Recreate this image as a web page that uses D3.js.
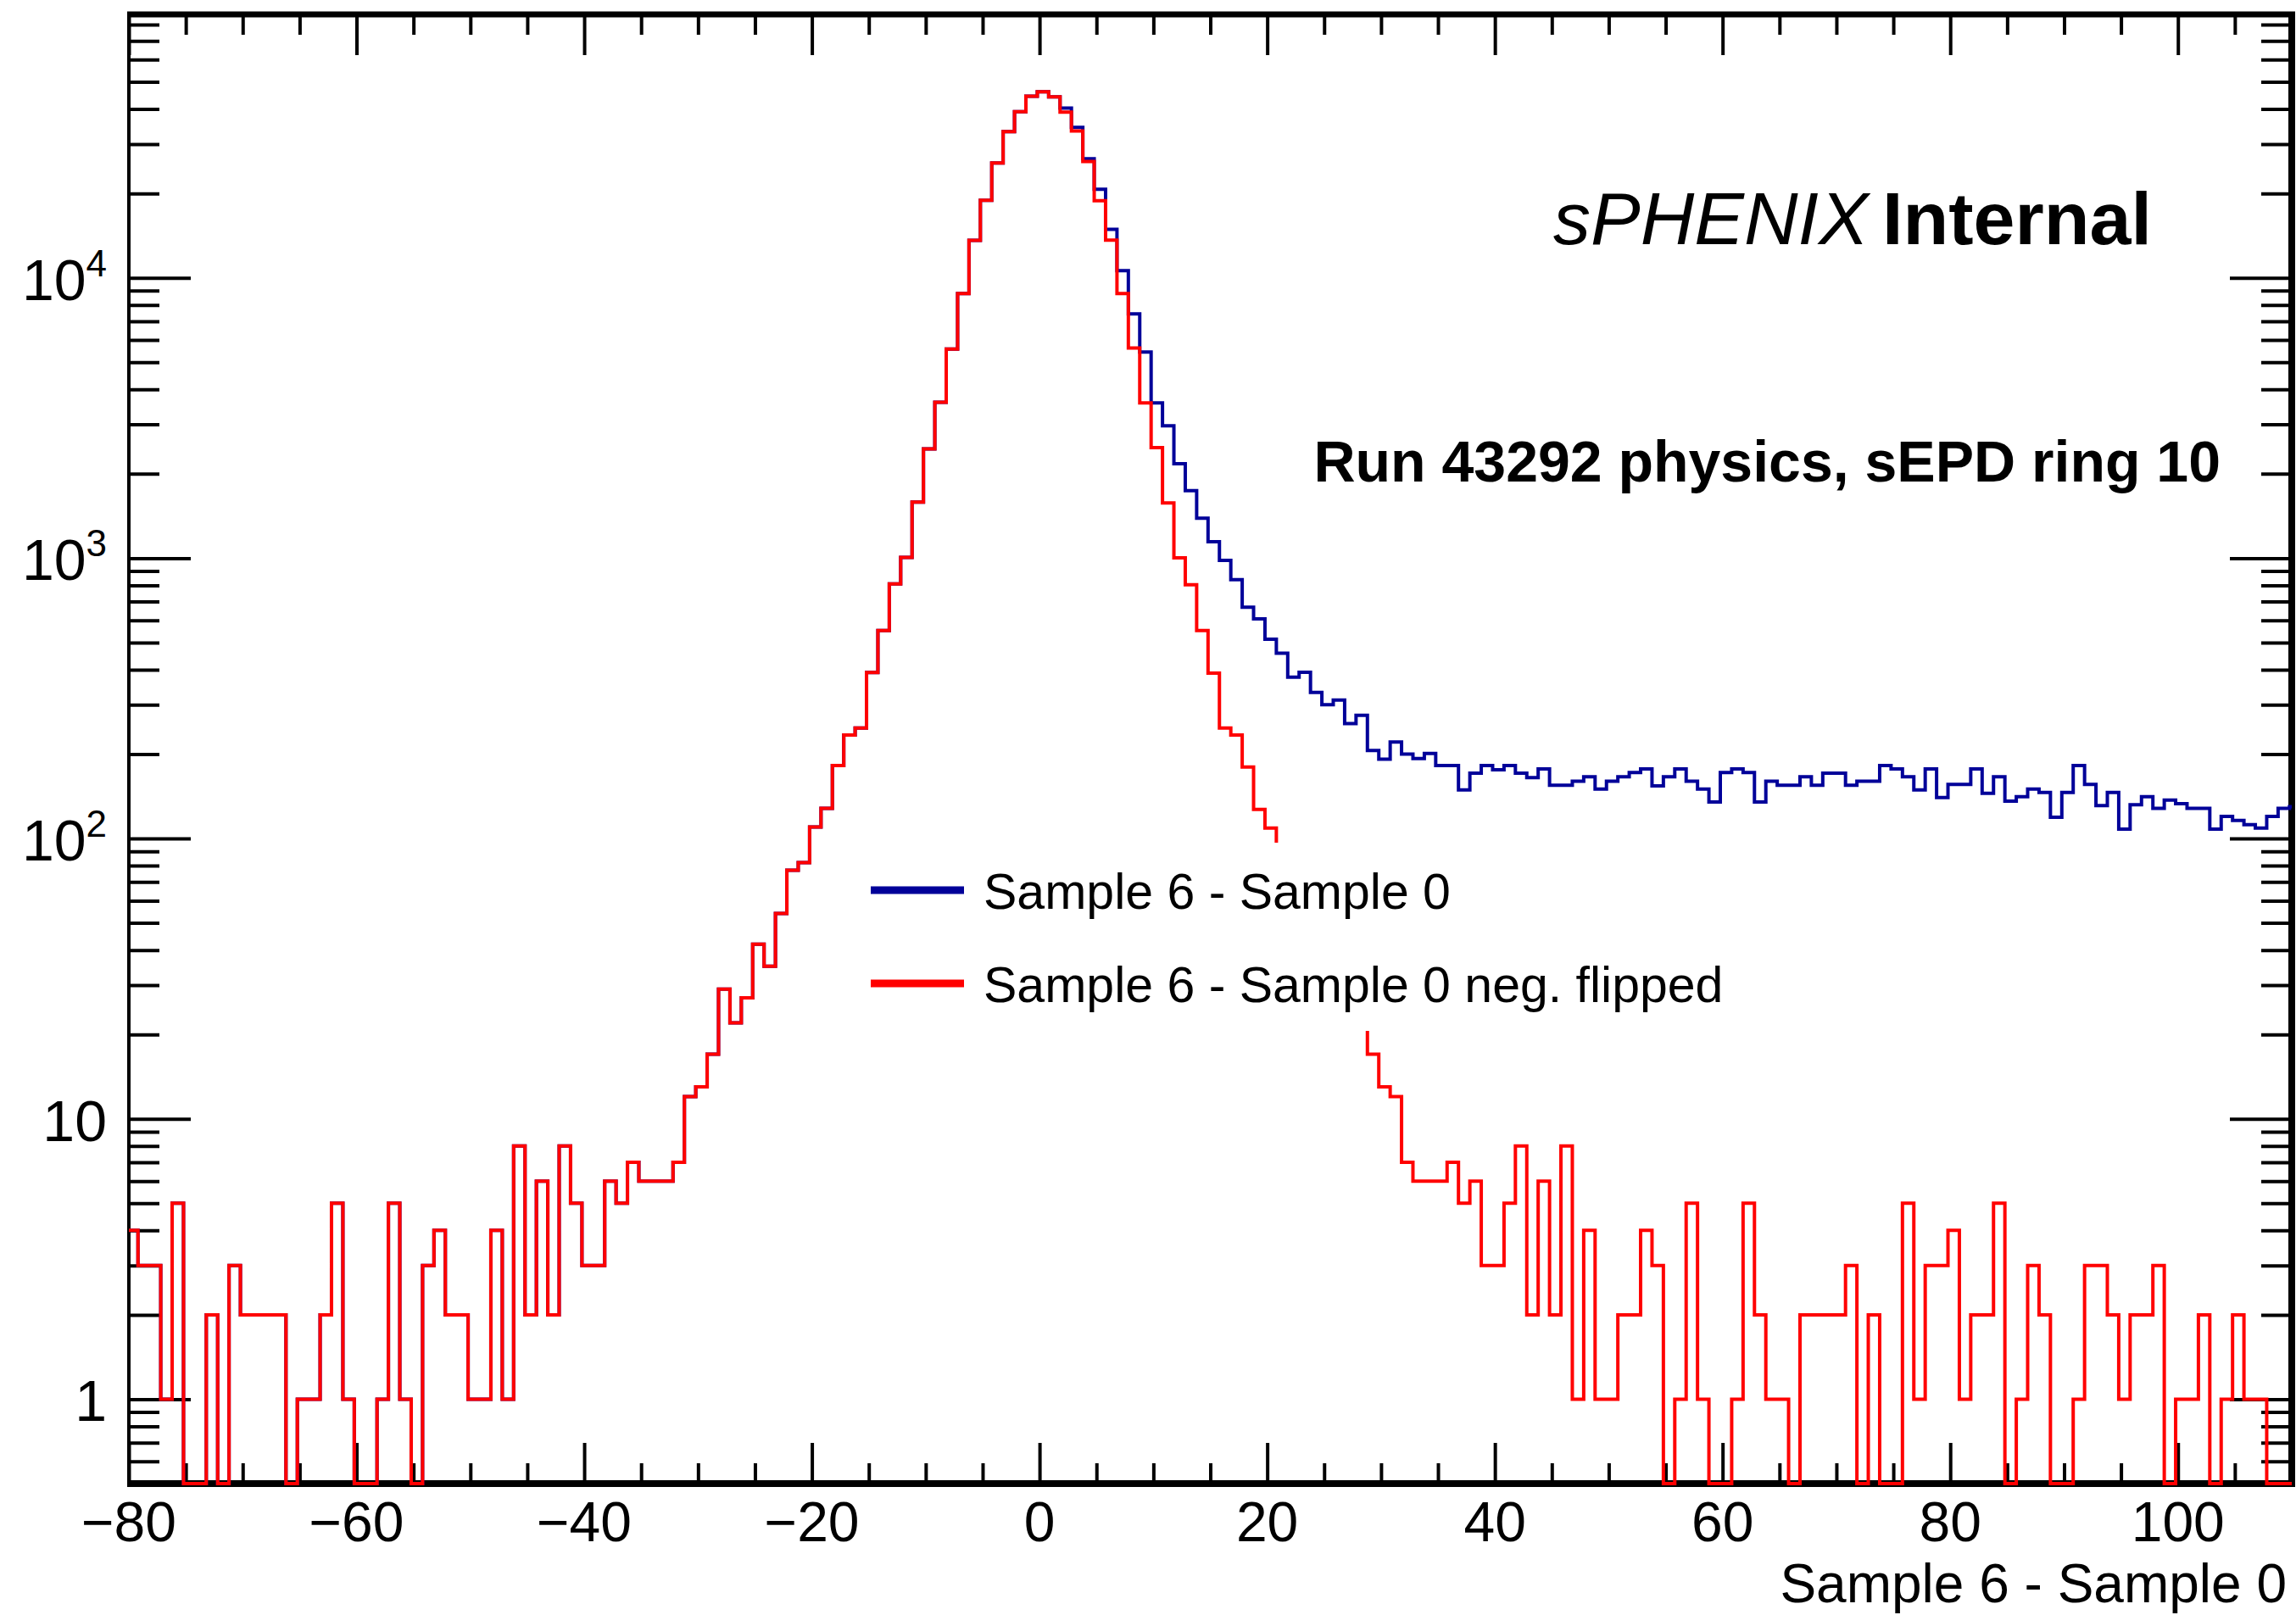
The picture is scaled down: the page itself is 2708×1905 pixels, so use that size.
<!DOCTYPE html>
<html>
<head>
<meta charset="utf-8">
<script src="https://cdn.jsdelivr.net/npm/d3@7"></script>
<style>
  html, body { margin: 0; padding: 0; background: #ffffff; }
  svg { display: block; font-family: "Liberation Sans", Arial, Helvetica, sans-serif; }
</style>
</head>
<body>
<svg id="chart" width="2708" height="1905"></svg>
<script>
// ---- binning: unit-width bins, first lower edge at -80.2 ----
const binLowEdge = -80.2;
const binWidth = 1;

// Sample 6 - Sample 0, negative side mirrored onto the positive side
const redCounts = [
  4, 3, 3, 1, 5, 0, 0, 2, 0, 3,
  2, 2, 2, 2, 0, 1, 1, 2, 5, 1,
  0, 0, 1, 5, 1, 0, 3, 4, 2, 2,
  1, 1, 4, 1, 8, 2, 6, 2, 8, 5,
  3, 3, 6, 5, 7, 6, 6, 6, 7, 12,
  13, 17, 29, 22, 27, 42, 35, 54, 77, 82,
  110, 128, 182, 234, 248, 391, 552, 809, 1007, 1586,
  2455, 3598, 5572, 8790, 13600, 18900, 25700, 33200, 39100, 44400,
  46100,
  44200, 39000, 33400, 26000, 18850, 13620, 8790, 5620, 3580, 2480,
  1574, 1003, 804, 552, 389, 248, 234, 180, 127, 109,
  82, 77, 54, 35, 42, 27, 22, 29,
  17, 13, 12, 7, 6, 6, 6, 7, 5, 6,
  3, 3, 5, 8, 2, 6, 2, 8, 1, 4,
  1, 1, 2, 2, 4, 3, 0, 1, 5, 1,
  0, 0, 1, 5, 2, 1, 1, 0, 2, 2,
  2, 2, 3, 0, 2, 0, 0, 5, 1, 3,
  3, 4, 1, 2, 2, 5, 0, 1, 3, 2,
  0, 0, 1, 3, 3, 2, 1, 2, 2, 3,
  0, 1, 1, 2, 0, 1, 2, 1, 1, 0, 0, 0
];

// Sample 6 - Sample 0
const blueCounts = [
  4, 3, 3, 1, 5, 0, 0, 2, 0, 3,
  2, 2, 2, 2, 0, 1, 1, 2, 5, 1,
  0, 0, 1, 5, 1, 0, 3, 4, 2, 2,
  1, 1, 4, 1, 8, 2, 6, 2, 8, 5,
  3, 3, 6, 5, 7, 6, 6, 6, 7, 12,
  13, 17, 29, 22, 27, 42, 35, 54, 77, 82,
  110, 128, 182, 234, 248, 391, 552, 809, 1007, 1586,
  2455, 3598, 5572, 8790, 13600, 18900, 25700, 33200, 39100, 44400,
  46100,
  44200, 40300, 34400, 26600, 20700, 14900, 10600, 7430, 5440, 3580,
  2966, 2171, 1740, 1388, 1145, 982, 838, 668, 607, 514,
  458, 376, 392, 332, 300, 312, 257, 275, 206, 192,
  221, 200, 193, 201, 182, 182, 149, 171, 182, 176,
  182, 171, 165, 177, 155, 155, 160, 166, 150, 160,
  166, 172, 177, 154, 166, 177, 160, 150, 135, 172,
  177, 172, 135, 160, 155, 155, 166, 155, 171, 171,
  155, 160, 160, 182, 177, 166, 149, 177, 140, 156,
  156, 177, 145, 166, 136, 141, 150, 146, 119, 146,
  182, 156, 131, 146, 108, 132, 141, 128, 137, 133,
  128, 128, 108, 120, 116, 112, 109, 120, 128, 130
];

const xTickLabels = [-80, -60, -40, -20, 0, 20, 40, 60, 80, 100];
const yTickLabels = [1, 10, 100, 1000, 10000];
const seriesNames = ["Sample 6 - Sample 0", "Sample 6 - Sample 0 neg. flipped"];
const seriesColors = ["#000099", "#ff0000"];
const xTitle = "Sample 6 - Sample 0";
const runLabel = "Run 43292 physics, sEPD ring 10";

// ---- frame geometry ----
const W = 2708, H = 1905;
const L = 152, R = 2703, T = 17, B = 1750;
const xMin = -80, xMax = 110, yMin = 0.5, yMax = 87000;

const svg = d3.select("#chart");
svg.append("rect").attr("width", W).attr("height", H).attr("fill", "#ffffff");

const x = d3.scaleLinear().domain([xMin, xMax]).range([L, R]);
const y = d3.scaleLog().domain([yMin, yMax]).range([B, T]);

// ---- ticks (inward on all four sides) ----
const xMinor = d3.range(xMin, xMax + 0.001, 5).filter(v => v % 20 !== 0);
const yMinor = [];
[0.1, 1, 10, 100, 1000, 10000].forEach(d => {
  for (let k = 2; k <= 9; k++) {
    const v = d * k;
    if (v > yMin && v < yMax) yMinor.push(v);
  }
});

const tickStyle = g => {
  g.select(".domain").remove();
  g.selectAll(".tick text").remove();
  g.selectAll(".tick line").attr("stroke", "#000").attr("stroke-width", 4);
};

svg.append("g").attr("transform", `translate(0,${B})`)
  .call(d3.axisBottom(x).tickValues(xTickLabels).tickSize(-48)).call(tickStyle);
svg.append("g").attr("transform", `translate(0,${B})`)
  .call(d3.axisBottom(x).tickValues(xMinor).tickSize(-24)).call(tickStyle);
svg.append("g").attr("transform", `translate(0,${T})`)
  .call(d3.axisTop(x).tickValues(xTickLabels).tickSize(-48)).call(tickStyle);
svg.append("g").attr("transform", `translate(0,${T})`)
  .call(d3.axisTop(x).tickValues(xMinor).tickSize(-24)).call(tickStyle);

svg.append("g").attr("transform", `translate(${L},0)`)
  .call(d3.axisLeft(y).tickValues(yTickLabels).tickSize(-73)).call(tickStyle);
svg.append("g").attr("transform", `translate(${L},0)`)
  .call(d3.axisLeft(y).tickValues(yMinor).tickSize(-36)).call(tickStyle);
svg.append("g").attr("transform", `translate(${R},0)`)
  .call(d3.axisRight(y).tickValues(yTickLabels).tickSize(-73)).call(tickStyle);
svg.append("g").attr("transform", `translate(${R},0)`)
  .call(d3.axisRight(y).tickValues(yMinor).tickSize(-36)).call(tickStyle);

// ---- frame ----
const frame = svg.append("g").attr("stroke", "#000").attr("fill", "none");
frame.append("line").attr("x1", L).attr("x2", L).attr("y1", T - 3).attr("y2", B + 4).attr("stroke-width", 4);
frame.append("line").attr("x1", L - 2).attr("x2", R + 4).attr("y1", B).attr("y2", B).attr("stroke-width", 8);
frame.append("line").attr("x1", R).attr("x2", R).attr("y1", T - 3).attr("y2", B + 4).attr("stroke-width", 8);
frame.append("line").attr("x1", L - 2).attr("x2", R + 4).attr("y1", T).attr("y2", T).attr("stroke-width", 7);

// ---- histograms ----
svg.append("defs").append("clipPath").attr("id", "plotClip")
  .append("rect").attr("x", L).attr("y", T).attr("width", R - L).attr("height", B - T + 4);

function histPoints(counts) {
  const pts = counts.map((c, i) => [binLowEdge + i * binWidth, c]);
  pts.push([binLowEdge + counts.length * binWidth, counts[counts.length - 1]]);
  return pts;
}
const stepLine = d3.line()
  .x(d => x(d[0]))
  .y(d => y(Math.max(d[1], yMin)))
  .curve(d3.curveStepAfter);

const hists = svg.append("g").attr("clip-path", "url(#plotClip)");
[blueCounts, redCounts].forEach((counts, k) => {
  hists.append("path")
    .attr("d", stepLine(histPoints(counts)))
    .attr("fill", "none")
    .attr("stroke", seriesColors[k])
    .attr("stroke-width", 4)
    .attr("stroke-linejoin", "miter");
});

// ---- tick labels ----
const labels = svg.append("g").attr("fill", "#000");
xTickLabels.forEach(v => {
  labels.append("text")
    .attr("x", x(v)).attr("y", 1818)
    .attr("text-anchor", "middle")
    .attr("font-size", 66)
    .text(v < 0 ? "\u2212" + Math.abs(v) : String(v));
});
yTickLabels.forEach(v => {
  const t = labels.append("text")
    .attr("x", 126).attr("y", y(v) + 26)
    .attr("text-anchor", "end")
    .attr("font-size", 68);
  if (v < 100) {
    t.text(String(v));
  } else {
    t.append("tspan").text("10");
    t.append("tspan").attr("dy", -28).attr("font-size", 44).text(String(Math.round(Math.log10(v))));
  }
});

// axis title
labels.append("text")
  .attr("x", 2697).attr("y", 1890)
  .attr("text-anchor", "end")
  .attr("font-size", 64)
  .text(xTitle);

// ---- legend ----
const legend = svg.append("g");
legend.append("rect")
  .attr("x", 990).attr("y", 994).attr("width", 1120).attr("height", 222)
  .attr("fill", "#ffffff");
const legendRows = [1050, 1160];
seriesNames.forEach((name, k) => {
  legend.append("line")
    .attr("x1", 1027).attr("x2", 1137)
    .attr("y1", legendRows[k]).attr("y2", legendRows[k])
    .attr("stroke", seriesColors[k]).attr("stroke-width", 9);
  legend.append("text")
    .attr("x", 1160).attr("y", legendRows[k] + 22)
    .attr("font-size", 59)
    .attr("fill", "#000")
    .text(name);
});

// ---- experiment label and run info ----
const tag = svg.append("text").attr("x", 1832).attr("y", 288).attr("font-size", 88).attr("fill", "#000");
tag.append("tspan").attr("font-style", "italic").text("sPHENIX");
tag.append("tspan").attr("font-weight", "bold").attr("dx", -8).text(" Internal");

svg.append("text")
  .attr("x", 2619).attr("y", 568)
  .attr("text-anchor", "end")
  .attr("font-size", 68)
  .attr("font-weight", "bold")
  .attr("fill", "#000")
  .text(runLabel);
</script>
</body>
</html>
